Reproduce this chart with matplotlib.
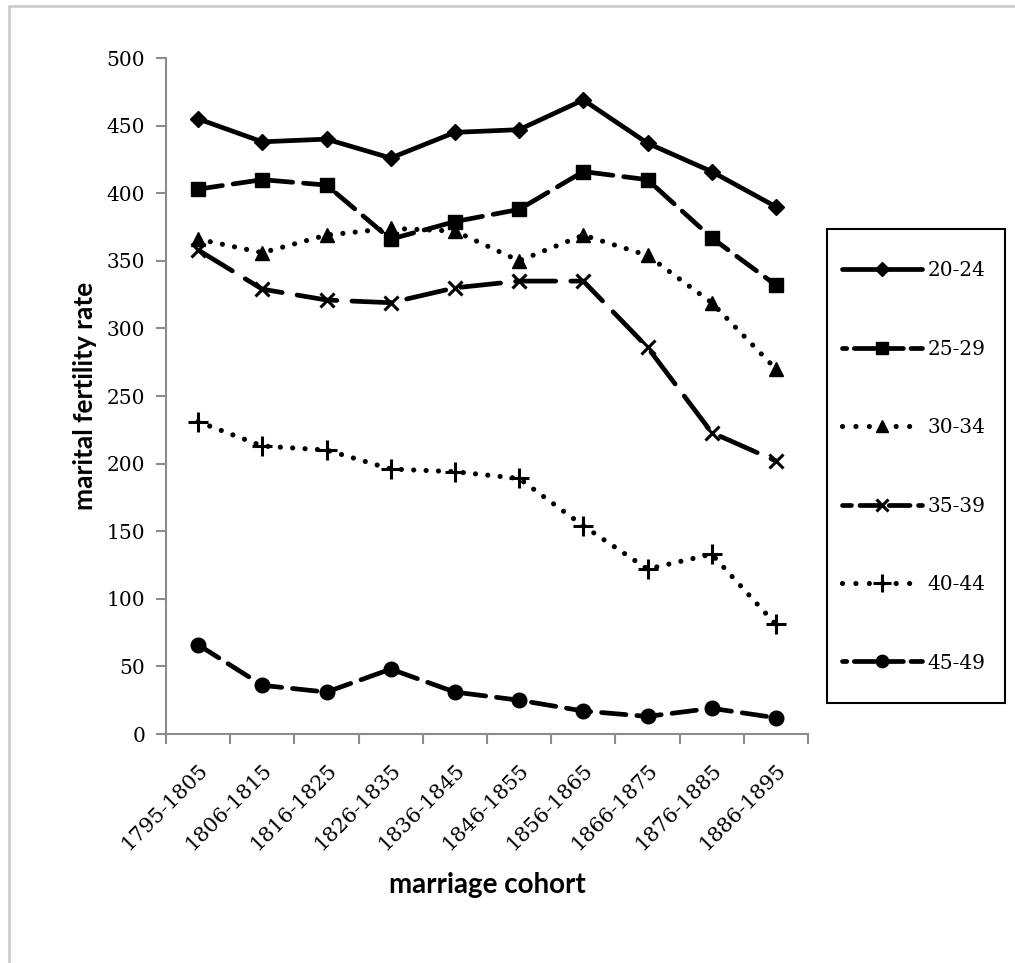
import matplotlib
matplotlib.use("Agg")
import matplotlib.pyplot as plt
from matplotlib.patches import Rectangle

# marriage cohorts (x categories)
cohorts = ["1795-1805", "1806-1815", "1816-1825", "1826-1835", "1836-1845",
           "1846-1855", "1856-1865", "1866-1875", "1876-1885", "1886-1895"]

# marital fertility rate by age group of wife
age_20_24 = [455, 438, 440, 426, 445, 447, 469, 437, 416, 390]
age_25_29 = [403, 410, 406, 366, 379, 388, 416, 410, 367, 332]
age_30_34 = [366, 356, 369, 374, 372, 350, 369, 354, 319, 270]
age_35_39 = [358, 329, 321, 319, 330, 335, 335, 286, 223, 202]
age_40_44 = [231, 213, 210, 196, 194, 189, 154, 122, 133, 81]
age_45_49 = [66, 36, 31, 48, 31, 25, 17, 13, 19, 12]

series_labels = ["20-24", "25-29", "30-34", "35-39", "40-44", "45-49"]
series_values = [age_20_24, age_25_29, age_30_34, age_35_39, age_40_44, age_45_49]

# style per series: (linestyle, linewidth, marker, markersize, legend linestyle)
dash  = (0, (5.2, 2.3))
ldash = (0, (8.5, 3.2))
dot   = (0, (0.01, 2.4))
styles = [
    ("-",   3.4, "D", 8,    "-"),
    (dash,  3.4, "s", 10,   (3.5, (4.4, 1.6))),
    (dot,   3.7, "^", 10,   (0, (0.01, 2.6))),
    (ldash, 3.4, "x", 10,   (2.5, (4.4, 1.8))),
    (dot,   3.7, "+", 15,   (0, (0.01, 2.6))),
    (dash,  3.4, "o", 10.5, (3.5, (4.4, 1.6))),
]

W, H = 1015, 963
fig = plt.figure(figsize=(W / 100, H / 100), dpi=100)

# light grey frame round the chart (open on right/bottom, cropped)
fig.patches.append(Rectangle((9 / W, -0.1), 1.2, 1 - 6 / H + 0.1, transform=fig.transFigure,
                             fill=False, edgecolor="#c8c8c8", linewidth=1.8))

ax = fig.add_axes([166 / W, 1 - 734 / H, (808 - 166) / W, (734 - 58) / H])

x = list(range(len(cohorts)))
for lab, vals, (ls, lw, mk, ms, _) in zip(series_labels, series_values, styles):
    ax.plot(x, vals, color="black", linestyle=ls, linewidth=lw,
            dash_capstyle="round", solid_capstyle="round",
            marker=mk, markersize=ms, markeredgewidth=2.2 if mk in "x+" else 1.0,
            markerfacecolor="black", markeredgecolor="black", label=lab)

ax.set_xlim(-0.5, len(cohorts) - 0.5)
ax.set_ylim(0, 500)
ax.set_yticks(range(0, 501, 50))

ax.spines["top"].set_visible(False)
ax.spines["right"].set_visible(False)
for s in ("left", "bottom"):
    ax.spines[s].set_color("#8c8c8c")
    ax.spines[s].set_linewidth(1.5)

serif = ["DejaVu Serif"]
ax.tick_params(axis="y", direction="out", length=7, width=1.5, color="#8c8c8c",
               pad=8, labelsize=14.5)
for t in ax.get_yticklabels():
    t.set_family(serif)

# category boundary ticks on x, labels at centres
ax.set_xticks([i - 0.5 for i in range(len(cohorts) + 1)], minor=True)
ax.tick_params(axis="x", which="minor", direction="out", length=7, width=1.5, color="#8c8c8c")
ax.set_xticks(x)
ax.set_xticklabels(cohorts, rotation=45, ha="right", rotation_mode="anchor",
                   fontsize=15, family=serif)
ax.tick_params(axis="x", which="major", length=0, pad=19)

ax.set_ylabel("marital fertility rate", family="Lato", fontweight="bold", fontsize=19)
ax.yaxis.set_label_coords((97 - 166) / 642, 0.5)
ax.set_xlabel("marriage cohort", family="Lato", fontweight="bold", fontsize=20)
ax.xaxis.set_label_coords(0.5, (734 - 872) / 676)

# legend: entries without frame, box drawn separately
leg = fig.legend(loc="center left", bbox_to_anchor=(842 / W, 1 - 467 / H),
                 prop={"family": serif, "size": 14.5}, frameon=False,
                 handlelength=3.95, handletextpad=0.3, labelspacing=2.95,
                 borderpad=0, borderaxespad=0, markerscale=0.85)
for line, st in zip(leg.get_lines(), styles):
    line.set_linestyle(st[4])
    line.set_dash_capstyle("round")
fig.patches.append(Rectangle((827 / W, 1 - 703 / H), (1005 - 827) / W, (703 - 229) / H,
                             transform=fig.transFigure, fill=False,
                             edgecolor="black", linewidth=1.5))

fig.savefig("out.png", dpi=100)
